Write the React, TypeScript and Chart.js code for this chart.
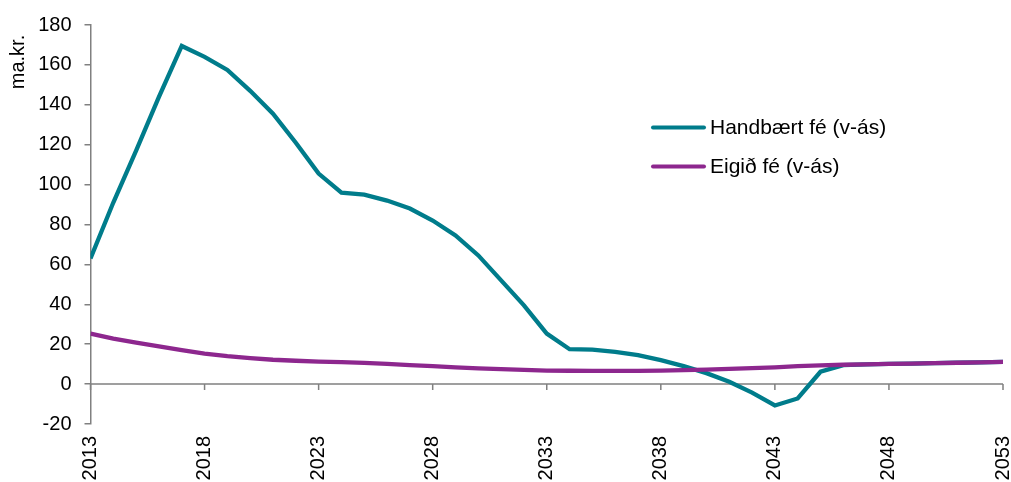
import React, { useEffect, useRef } from "react";
import { Chart, registerables } from "chart.js";

Chart.register(...registerables);

const years = [
  2013, 2014, 2015, 2016, 2017, 2018, 2019, 2020, 2021, 2022,
  2023, 2024, 2025, 2026, 2027, 2028, 2029, 2030, 2031, 2032,
  2033, 2034, 2035, 2036, 2037, 2038, 2039, 2040, 2041, 2042,
  2043, 2044, 2045, 2046, 2047, 2048, 2049, 2050, 2051, 2052, 2053,
];

const handbaertFe = [
  63, 91, 117, 144, 169.5, 164, 157.5, 147, 135.5, 121,
  105.5, 96, 95, 92, 88, 82, 74.5, 64.5, 52, 39.5,
  25.3, 17.5, 17.3, 16.2, 14.5, 12, 9, 5.5, 1.2, -4.3,
  -10.7, -7.2, 6.2, 9.5, 9.9, 10.1, 10.3, 10.5, 10.7, 10.9, 11.1,
];

const eigidFe = [
  25.3, 22.8, 20.8, 18.9, 17.0, 15.3, 14.0, 13.0, 12.2, 11.7,
  11.3, 11.0, 10.6, 10.1, 9.5, 9.0, 8.4, 7.9, 7.5, 7.1,
  6.8, 6.7, 6.6, 6.6, 6.6, 6.8, 7.0, 7.3, 7.6, 8.0,
  8.4, 9.0, 9.4, 9.7, 9.9, 10.1, 10.3, 10.5, 10.7, 10.9, 11.1,
];

const xTickYears = [2013, 2018, 2023, 2028, 2033, 2038, 2043, 2048, 2053];
const seriesLabels = ["Handbært fé (v-ás)", "Eigið fé (v-ás)"];
const yAxisTitle = "ma.kr.";

const TEAL = "#007C8B";
const PURPLE = "#8D278E";
const AXIS = "#808080";
const FONT = "'Liberation Sans', Arial, sans-serif";

const overlayPlugin = {
  id: "overlay",
  beforeDatasetsDraw(chart: any) {
    const { ctx, chartArea, scales } = chart;
    const y0 = scales.y.getPixelForValue(0);
    ctx.save();
    ctx.strokeStyle = AXIS;
    ctx.lineWidth = 1.5;
    ctx.beginPath();
    ctx.moveTo(chartArea.left, y0);
    ctx.lineTo(chartArea.right, y0);
    xTickYears.forEach((yr) => {
      const x = scales.x.getPixelForValue(yr);
      ctx.moveTo(x, y0);
      ctx.lineTo(x, y0 + 6);
    });
    ctx.stroke();
    ctx.restore();
  },
  afterDraw(chart: any) {
    const { ctx } = chart;
    ctx.save();
    ctx.font = `20px ${FONT}`;
    ctx.fillStyle = "#000";
    ctx.translate(18, 62);
    ctx.rotate(-Math.PI / 2);
    ctx.textAlign = "center";
    ctx.textBaseline = "middle";
    ctx.fillText(yAxisTitle, 0, 0);
    ctx.restore();

    ctx.save();
    const items = chart.data.datasets.map((d: any) => ({ label: d.label, color: d.borderColor }));
    const ys = [127.5, 166.5];
    items.forEach((it: any, i: number) => {
      ctx.strokeStyle = it.color;
      ctx.lineWidth = 4;
      ctx.lineCap = "round";
      ctx.beginPath();
      ctx.moveTo(653, ys[i]);
      ctx.lineTo(704, ys[i]);
      ctx.stroke();
      ctx.font = `21px ${FONT}`;
      ctx.fillStyle = "#000";
      ctx.textAlign = "left";
      ctx.textBaseline = "middle";
      ctx.fillText(it.label, 710, ys[i] + 1);
    });
    ctx.restore();
  },
};

export default function App() {
  const canvasRef = useRef<HTMLCanvasElement | null>(null);

  useEffect(() => {
    document.body.style.margin = "0";
    const canvas = canvasRef.current;
    if (!canvas) return;
    const chart = new Chart(canvas, {
      type: "line",
      data: {
        datasets: [
          {
            label: seriesLabels[0],
            data: years.map((x, i) => ({ x, y: handbaertFe[i] })),
            borderColor: TEAL,
            backgroundColor: TEAL,
            borderWidth: 4.3,
            pointRadius: 0,
            tension: 0,
            order: 1,
          },
          {
            label: seriesLabels[1],
            data: years.map((x, i) => ({ x, y: eigidFe[i] })),
            borderColor: PURPLE,
            backgroundColor: PURPLE,
            borderWidth: 4.3,
            pointRadius: 0,
            tension: 0,
            order: 0,
          },
        ],
      },
      options: {
        animation: false,
        responsive: false,
        maintainAspectRatio: false,
        layout: { padding: { top: 24, right: 8, left: 0, bottom: 0 } },
        plugins: { legend: { display: false }, tooltip: { enabled: false } },
        scales: {
          x: {
            type: "linear",
            min: 2013,
            max: 2053,
            afterBuildTicks: (scale: any) => {
              scale.ticks = xTickYears.map((v) => ({ value: v }));
            },
            afterFit: (scale: any) => {
              scale.height = 58;
              scale.paddingLeft = 0;
              scale.paddingRight = 0;
            },
            grid: { display: false, drawTicks: false },
            border: { display: false },
            ticks: {
              minRotation: 90,
              maxRotation: 90,
              padding: 12,
              color: "#000",
              font: { family: FONT, size: 20 },
              callback: (v: any) => String(v),
            },
          },
          y: {
            min: -20,
            max: 180,
            afterFit: (scale: any) => {
              scale.width = 90.5;
            },
            grid: { drawOnChartArea: false, drawTicks: true, tickLength: 6, color: AXIS, lineWidth: 1.5 },
            border: { display: true, color: AXIS, width: 1.5 },
            ticks: {
              stepSize: 20,
              padding: 13,
              color: "#000",
              font: { family: FONT, size: 20 },
            },
          },
        },
      },
      plugins: [overlayPlugin],
    });
    return () => chart.destroy();
  }, []);

  return (
    <div style={{ width: 1011, height: 482, position: "relative", overflow: "hidden" }}>
      <canvas ref={canvasRef} width={1011} height={482} style={{ display: "block" }} />
    </div>
  );
}
